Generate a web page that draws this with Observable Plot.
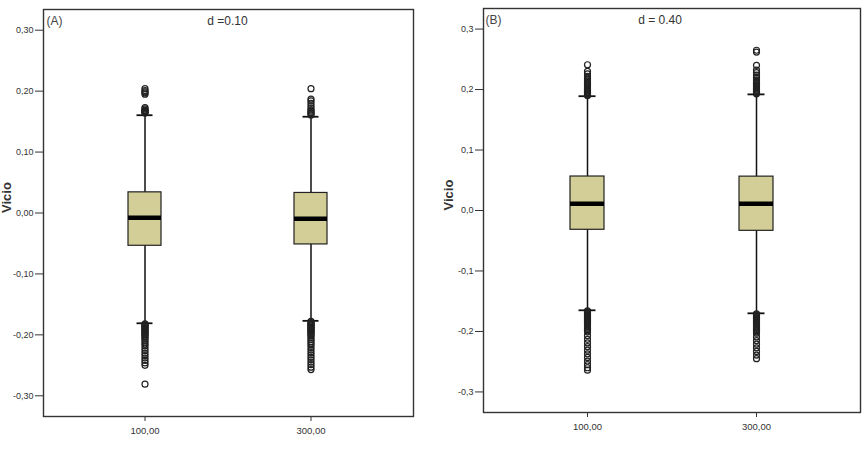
<!DOCTYPE html>
<html><head><meta charset="utf-8">
<script src="https://cdn.jsdelivr.net/npm/d3@7"></script>
<script src="https://cdn.jsdelivr.net/npm/@observablehq/plot@0.6"></script>
<style>
body{margin:0;background:#fff;width:868px;height:462px;overflow:hidden;position:relative;font-family:"Liberation Sans",Arial,sans-serif}
#a{position:absolute;left:0;top:0}
#b{position:absolute;left:430px;top:0}
</style></head><body><div id="a"></div><div id="b"></div>
<script>
const categories = ["100,00", "300,00"];
const ticksA = [-0.3, -0.2, -0.1, 0, 0.1, 0.2, 0.3];
const ticksB = [-0.3, -0.2, -0.1, 0, 0.1, 0.2, 0.3];

// Panel A (d = 0.10)
const aQ1 = [-0.0538, -0.0516];
const aMedian = [-0.0077, -0.0094];
const aQ3 = [0.0339, 0.0329];
const aWhiskerLow = [-0.181, -0.177];
const aWhiskerHigh = [0.1605, 0.158];
const aOutliers100 = [0.164, 0.165, 0.166, 0.167, 0.168, 0.169, 0.171, 0.173, 0.195, 0.197, 0.199, 0.201, 0.204,
  -0.182, -0.1835, -0.185, -0.1865, -0.188, -0.1895, -0.191, -0.1925, -0.194, -0.1955, -0.197, -0.1985,
  -0.200, -0.202, -0.204, -0.206, -0.209, -0.212, -0.215, -0.218, -0.222, -0.226, -0.230, -0.234,
  -0.238, -0.242, -0.246, -0.250, -0.281];
const aOutliers300 = [0.161, 0.163, 0.165, 0.167, 0.169, 0.172, 0.176, 0.180, 0.184, 0.187, 0.204,
  -0.178, -0.1795, -0.181, -0.1825, -0.184, -0.1855, -0.187, -0.1885, -0.190, -0.1915, -0.193, -0.1945,
  -0.196, -0.198, -0.200, -0.202, -0.205, -0.208, -0.211, -0.214, -0.217, -0.221, -0.225, -0.229,
  -0.233, -0.237, -0.241, -0.245, -0.249, -0.253, -0.257];

// Panel B (d = 0.40)
const bQ1 = [-0.0319, -0.0336];
const bMedian = [0.011, 0.011];
const bQ3 = [0.0562, 0.056];
const bWhiskerLow = [-0.165, -0.170];
const bWhiskerHigh = [0.189, 0.192];
const bOutliers100 = [0.190, 0.1915, 0.193, 0.1945, 0.196, 0.1975, 0.199, 0.2005, 0.202, 0.204, 0.206,
  0.208, 0.210, 0.212, 0.214, 0.216, 0.219, 0.222, 0.226, 0.230, 0.241,
  -0.166, -0.1675, -0.169, -0.1705, -0.172, -0.1735, -0.175, -0.1765, -0.178, -0.1795, -0.181, -0.1825,
  -0.184, -0.1855, -0.187, -0.189, -0.191, -0.193, -0.195, -0.197, -0.199, -0.201,
  -0.207, -0.213, -0.219, -0.225, -0.231, -0.237, -0.243, -0.249, -0.255, -0.260, -0.264];
const bOutliers300 = [0.193, 0.1945, 0.196, 0.1975, 0.199, 0.2005, 0.202, 0.204, 0.206, 0.208, 0.210,
  0.212, 0.214, 0.216, 0.220, 0.224, 0.228, 0.232, 0.240, 0.262, 0.265,
  -0.171, -0.1725, -0.174, -0.1755, -0.177, -0.1785, -0.180, -0.1815, -0.183, -0.1845, -0.186, -0.1875,
  -0.189, -0.191, -0.193, -0.195, -0.197, -0.199, -0.201, -0.203,
  -0.209, -0.215, -0.221, -0.227, -0.233, -0.239, -0.245];

function panel(o) {
  const boxes = categories.map((c, i) => ({c, q1: o.q1[i], med: o.med[i], q3: o.q3[i], lo: o.lo[i], hi: o.hi[i]}));
  const outs = [...o.out100.map(v => ({c: categories[0], v})), ...o.out300.map(v => ({c: categories[1], v}))];
  return Plot.plot({
    width: o.width, height: 462,
    marginLeft: o.ml, marginRight: o.mr, marginTop: o.mt, marginBottom: o.mb,
    style: {fontFamily: "Liberation Sans, Arial, sans-serif", background: "white"},
    x: {type: "band", domain: categories, paddingInner: 0.8, paddingOuter: 0.51, label: null},
    y: {domain: [-0.334, 0.334], label: null},
    marks: [
      Plot.axisY({ticks: o.ticks, tickFormat: o.fmt, tickSize: 8, tickPadding: 2, fontSize: 9, color: "#333", label: null}),
      Plot.axisX({tickSize: 5, tickPadding: 6, fontSize: 9.5, color: "#333", label: null}),
      Plot.ruleX(boxes, {x: "c", y1: "lo", y2: "hi", stroke: "#111", strokeWidth: 1.5}),
      Plot.tickY(boxes, {x: "c", y: "lo", inset: 8.5, stroke: "#111", strokeWidth: 1.8}),
      Plot.tickY(boxes, {x: "c", y: "hi", inset: 8.5, stroke: "#111", strokeWidth: 1.8}),
      Plot.barY(boxes, {x: "c", y1: "q1", y2: "q3", fill: "#d3ce97", stroke: "#222", strokeWidth: 1.2}),
      Plot.tickY(boxes, {x: "c", y: "med", stroke: "#000", strokeWidth: 4.5}),
      Plot.dot(outs, {x: "c", y: "v", r: 3, stroke: "#222", strokeWidth: 1.2, fill: "none"}),
      Plot.frame({stroke: "#333", strokeWidth: 1.4}),
      Plot.text([o.title], {frameAnchor: "top", dx: o.titleDx, dy: 7, lineAnchor: "top", fontSize: 12, fill: "#333"}),
      Plot.text([o.tag], {frameAnchor: "top-left", dx: o.tagDx, dy: 7, lineAnchor: "top", textAnchor: "start", fontSize: 12, fill: "#444"}),
      Plot.text(["Vicio"], {frameAnchor: "left", dx: o.labelDx, rotate: -90, fontSize: 13, fontWeight: "bold", fill: "#333"})
    ]
  });
}

document.getElementById("a").append(panel({
  width: 430, ml: 43, mr: 17, mt: 9, mb: 46,
  q1: aQ1, med: aMedian, q3: aQ3, lo: aWhiskerLow, hi: aWhiskerHigh,
  out100: aOutliers100, out300: aOutliers300,
  ticks: ticksA, fmt: d => d.toFixed(2).replace(".", ","),
  title: "d =0.10", titleDx: -1, tag: "(A)", tagDx: 3, labelDx: -37
}));
document.getElementById("b").append(panel({
  width: 438, ml: 53, mr: 8, mt: 8, mb: 50,
  q1: bQ1, med: bMedian, q3: bQ3, lo: bWhiskerLow, hi: bWhiskerHigh,
  out100: bOutliers100, out300: bOutliers300,
  ticks: ticksB, fmt: d => d.toFixed(1).replace(".", ","),
  title: "d = 0.40", titleDx: -12, tag: "(B)", tagDx: 2, labelDx: -35
}));
</script>
</body></html>
